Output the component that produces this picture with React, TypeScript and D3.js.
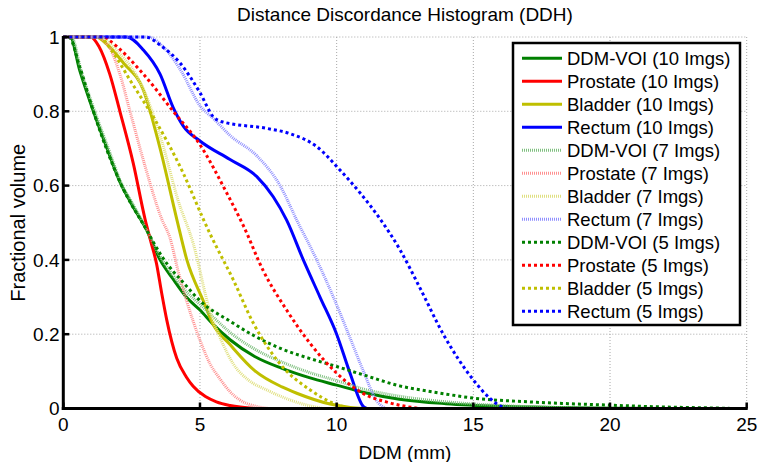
import React from "react";
import * as d3 from "d3";

type P = [number, number];

const xTicks = [0, 5, 10, 15, 20, 25];
const yTicks = [0, 0.2, 0.4, 0.6, 0.8, 1];
const yTickLabels = ["0", "0.2", "0.4", "0.6", "0.8", "1"];

const ddmVoi10: P[] = [[0,1],[0.25,1],[0.6,0.91],[1.1,0.8],[1.6,0.7],[2.07,0.61],[2.5,0.55],[3.05,0.48],[3.54,0.4],[4,0.35],[4.5,0.3],[5,0.265],[5.5,0.225],[6.1,0.185],[7,0.14],[8,0.108],[9,0.083],[10,0.063],[11,0.043],[12.3,0.025],[14,0.013],[16,0.006],[18,0.003],[20,0.001],[22,0]];
const prostate10: P[] = [[0,1],[1,1],[1.3,0.975],[1.7,0.9],[2.07,0.8],[2.56,0.66],[2.99,0.51],[3.2,0.45],[3.41,0.39],[3.6,0.31],[3.78,0.24],[4.15,0.135],[4.5,0.085],[4.75,0.06],[5.2,0.032],[5.6,0.018],[6.1,0.008],[7,0]];
const bladder10: P[] = [[0,1],[1.2,1],[1.6,0.98],[2.2,0.93],[2.93,0.857],[3.54,0.7],[4.15,0.51],[4.52,0.4],[5.12,0.29],[5.49,0.225],[6.1,0.172],[7,0.102],[8,0.058],[8.54,0.041],[9.76,0.012],[10.5,0.003],[11,0]];
const rectum10: P[] = [[0,1],[2.32,1],[2.93,0.965],[3.54,0.9],[4.02,0.81],[4.39,0.76],[5,0.72],[6.1,0.67],[7.08,0.624],[7.68,0.57],[8.17,0.507],[8.78,0.4],[9.39,0.3],[10,0.2],[10.49,0.095],[10.98,0.005],[11.1,0]];

const ddmVoi7: P[] = [[0,1],[0.3,1],[0.65,0.91],[1.15,0.8],[1.65,0.7],[2.1,0.61],[2.55,0.55],[3.05,0.48],[3.54,0.41],[4,0.36],[4.5,0.315],[5,0.28],[5.5,0.245],[6.1,0.205],[7,0.16],[8,0.125],[9,0.097],[10,0.075],[11,0.052],[12.3,0.033],[14,0.018],[16,0.008],[18,0.003],[20,0.001],[22,0]];
const prostate7: P[] = [[0,1],[1.2,1],[1.7,0.97],[2.07,0.9],[2.44,0.8],[3,0.65],[3.6,0.51],[3.9,0.46],[4.2,0.37],[4.51,0.29],[5,0.184],[5.37,0.12],[5.73,0.08],[6.1,0.045],[6.46,0.023],[7.1,0.005],[7.5,0]];
const bladder7: P[] = [[0,1],[1.3,1],[2,0.96],[2.93,0.86],[3.6,0.72],[4.2,0.56],[4.75,0.445],[5.37,0.26],[5.8,0.18],[6.22,0.12],[6.8,0.075],[7.44,0.05],[8.66,0.014],[9.5,0]];
const rectum7: P[] = [[0,1],[3.1,1],[3.7,0.97],[4.3,0.91],[5,0.815],[5.5,0.78],[6.1,0.735],[7.08,0.68],[7.93,0.6],[8.54,0.507],[9.27,0.4],[9.88,0.3],[10.49,0.19],[10.98,0.1],[11.47,0.02],[11.8,0]];

const ddmVoi5: P[] = [[0,1],[0.2,1],[0.6,0.92],[1.1,0.8],[2.07,0.61],[3.05,0.48],[3.6,0.41],[4.5,0.33],[5,0.29],[6.1,0.235],[7,0.195],[8,0.16],[9,0.135],[10,0.113],[11,0.09],[12.3,0.061],[13.5,0.045],[15,0.028],[17,0.018],[20,0.009],[22,0.004],[24,0.001],[24.5,0]];
const prostate5: P[] = [[0,1],[1.5,1],[1.7,0.99],[2.93,0.9],[4.02,0.8],[5,0.71],[5.98,0.58],[6.6,0.49],[7.32,0.37],[8.17,0.265],[9.03,0.175],[10,0.095],[10.98,0.04],[11.95,0.015],[13,0]];
const bladder5: P[] = [[0,1],[1.3,1],[1.8,0.96],[2.44,0.884],[3.41,0.77],[4.39,0.633],[5.12,0.51],[5.37,0.47],[6.22,0.346],[6.95,0.23],[7.93,0.12],[9.03,0.05],[9.88,0.014],[10.5,0]];
const rectum5: P[] = [[0,1],[3.0,1],[3.6,0.975],[4.27,0.93],[5,0.85],[5.49,0.785],[5.8,0.772],[7.44,0.754],[8.29,0.74],[9.27,0.705],[10.12,0.642],[10.86,0.58],[11.59,0.51],[12.32,0.427],[13.05,0.324],[13.9,0.2],[15,0.077],[15.61,0.027],[16.1,0.003],[16.3,0]];

const seriesNames = [
  "DDM-VOI (10 Imgs)", "Prostate (10 Imgs)", "Bladder (10 Imgs)", "Rectum (10 Imgs)",
  "DDM-VOI (7 Imgs)", "Prostate (7 Imgs)", "Bladder (7 Imgs)", "Rectum (7 Imgs)",
  "DDM-VOI (5 Imgs)", "Prostate (5 Imgs)", "Bladder (5 Imgs)", "Rectum (5 Imgs)",
];
const seriesData = [ddmVoi10, prostate10, bladder10, rectum10, ddmVoi7, prostate7, bladder7, rectum7, ddmVoi5, prostate5, bladder5, rectum5];

const baseColors = ["#008000", "#ff0000", "#bfbf00", "#0000ff"];
const paleColors = ["#80c080", "#ff9090", "#e0e080", "#9090ff"];

const FONT = "'Liberation Sans', Arial, Helvetica, sans-serif";

function styleFor(i: number) {
  const group = Math.floor(i / 4);
  const c = i % 4;
  if (group === 0) return { stroke: baseColors[c], width: 3, dash: undefined as string | undefined };
  if (group === 1) return { stroke: paleColors[c], width: 3, dash: "1,1" };
  return { stroke: baseColors[c], width: 3, dash: "3,3" };
}

export default function App() {
  const W = 762, H = 462;
  const left = 63.3, right = 746.7, top = 37, bottom = 408.5;
  const x = d3.scaleLinear().domain([0, 25]).range([left, right]);
  const y = d3.scaleLinear().domain([0, 1]).range([bottom, top]);
  const line = d3.line<P>().x(d => x(d[0])).y(d => y(d[1])).curve(d3.curveMonotoneX);

  const legX = 513, legY = 43, legW = 227, legH = 282;
  const rowY0 = 58.3, rowStep = 23;

  return (
    <svg width={W} height={H} style={{ position: "absolute", left: 0, top: 0, background: "#fff" }} fontFamily={FONT}>
      <rect x={0} y={0} width={W} height={H} fill="#fff" />
      {xTicks.filter(t => t > 0).map(t => (
        <line key={"gx" + t} x1={x(t)} x2={x(t)} y1={top} y2={bottom} stroke="#a8a8a8" strokeWidth={1} strokeDasharray="1,2" />
      ))}
      {yTicks.filter(t => t > 0).map(t => (
        <line key={"gy" + t} x1={left} x2={right} y1={y(t)} y2={y(t)} stroke="#a8a8a8" strokeWidth={1} strokeDasharray="1,2" />
      ))}
      {seriesData.map((d, i) => {
        const s = styleFor(i);
        return <path key={"s" + i} d={line(d) || ""} fill="none" stroke={s.stroke} strokeWidth={s.width} strokeDasharray={s.dash} strokeLinejoin="round" />;
      })}
      <line x1={left} x2={left} y1={top - 1} y2={bottom + 1.5} stroke="#000" strokeWidth={3} />
      <line x1={left - 1.5} x2={right + 1} y1={bottom} y2={bottom} stroke="#000" strokeWidth={3} />
      {xTicks.map(t => (
        <line key={"tx" + t} x1={x(t)} x2={x(t)} y1={bottom} y2={bottom - 6} stroke="#000" strokeWidth={2.5} />
      ))}
      {yTicks.map(t => (
        <line key={"ty" + t} x1={left} x2={left + 6} y1={y(t)} y2={y(t)} stroke="#000" strokeWidth={2.5} />
      ))}
      {xTicks.map(t => (
        <text key={"lx" + t} x={x(t)} y={431} textAnchor="middle" fontSize={19} fill="#000">{t}</text>
      ))}
      {yTicks.map((t, i) => (
        <text key={"ly" + t} x={59.5} y={y(t)} dy="0.35em" textAnchor="end" fontSize={19} fill="#000">{yTickLabels[i]}</text>
      ))}
      <text x={(left + right) / 2} y={459} textAnchor="middle" fontSize={19} fill="#000">DDM (mm)</text>
      <text transform={`translate(25, ${(top + bottom) / 2}) rotate(-90)`} textAnchor="middle" fontSize={20} fill="#000">Fractional volume</text>
      <text x={(left + right) / 2} y={21} textAnchor="middle" fontSize={19} fill="#000">Distance Discordance Histogram (DDH)</text>
      <rect x={legX} y={legY} width={legW} height={legH} fill="#fff" stroke="#000" strokeWidth={2.5} />
      {seriesNames.map((n, i) => {
        const s = styleFor(i);
        const yy = rowY0 + i * rowStep;
        return (
          <g key={"lg" + i}>
            <line x1={522} x2={562} y1={yy} y2={yy} stroke={s.stroke} strokeWidth={s.width} strokeDasharray={s.dash} />
            <text x={567} y={yy} dy="0.35em" fontSize={18.5} fill="#000">{n}</text>
          </g>
        );
      })}
    </svg>
  );
}
